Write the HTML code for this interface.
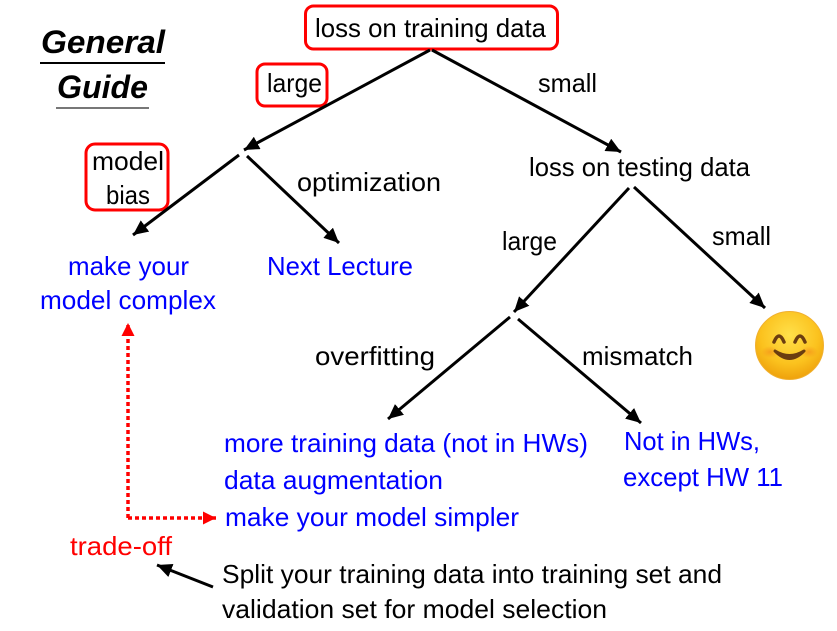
<!DOCTYPE html>
<html><head><meta charset="utf-8"><style>
html,body{margin:0;padding:0;background:#fff;}
svg{display:block;}
text{font-family:"Liberation Sans",sans-serif;font-size:26px;}
.b{fill:#0000ff;}
.r{fill:#ff0000;}
</style></head><body>
<svg width="837" height="631" viewBox="0 0 837 631" xmlns="http://www.w3.org/2000/svg">
<defs>
<marker id="ah" markerUnits="userSpaceOnUse" markerWidth="16" markerHeight="14" refX="15" refY="7" orient="auto">
<path d="M0,0 L15,7 L0,14 Z" fill="#000"/>
</marker>
<marker id="rh" markerUnits="userSpaceOnUse" markerWidth="14" markerHeight="13" refX="13" refY="6.5" orient="auto">
<path d="M0,0 L13,6.5 L0,13 Z" fill="#ff0000"/>
</marker>
<radialGradient id="eg" cx="0.5" cy="0.35" r="0.7">
<stop offset="0" stop-color="#ffe04a"/>
<stop offset="0.6" stop-color="#fbc21e"/>
<stop offset="1" stop-color="#ec9a08"/>
</radialGradient>
<radialGradient id="ck" cx="0.5" cy="0.5" r="0.5">
<stop offset="0" stop-color="#f4901a" stop-opacity="0.7"/>
<stop offset="1" stop-color="#f4901a" stop-opacity="0"/>
</radialGradient>
</defs>

<!-- title -->
<text x="41" y="53" style="font-size:32px;font-weight:bold;font-style:italic" textLength="124" lengthAdjust="spacingAndGlyphs">General</text>
<line x1="40" y1="63" x2="165" y2="63" stroke="#000" stroke-width="2"/>
<text x="57" y="98" style="font-size:32px;font-weight:bold;font-style:italic" textLength="91" lengthAdjust="spacingAndGlyphs">Guide</text>
<line x1="56" y1="108" x2="149" y2="108" stroke="#777" stroke-width="2"/>

<!-- boxes -->
<rect x="305.5" y="6" width="252" height="43" rx="8" fill="none" stroke="#ff0000" stroke-width="3"/>
<rect x="257" y="64" width="70" height="42" rx="8" fill="none" stroke="#ff0000" stroke-width="3"/>
<rect x="86" y="144" width="82" height="66" rx="9" fill="none" stroke="#ff0000" stroke-width="3"/>

<!-- arrows -->
<g stroke="#000" stroke-width="3" fill="none">
<line x1="430" y1="50" x2="244" y2="150" marker-end="url(#ah)"/>
<line x1="432" y1="50" x2="621" y2="152" marker-end="url(#ah)"/>
<line x1="239" y1="155" x2="133" y2="235" marker-end="url(#ah)"/>
<line x1="247" y1="156" x2="339" y2="243" marker-end="url(#ah)"/>
<line x1="629" y1="188" x2="514" y2="312" marker-end="url(#ah)"/>
<line x1="634" y1="187" x2="765" y2="308" marker-end="url(#ah)"/>
<line x1="510" y1="317" x2="388" y2="419" marker-end="url(#ah)"/>
<line x1="518" y1="319" x2="641" y2="423" marker-end="url(#ah)"/>
<line x1="213" y1="587" x2="157" y2="565" marker-end="url(#ah)"/>
</g>
<g stroke="#ff0000" stroke-width="3.5" fill="none" stroke-dasharray="4 3">
<line x1="128" y1="518" x2="128" y2="323" marker-end="url(#rh)"/>
<line x1="128" y1="518" x2="216" y2="518" marker-end="url(#rh)"/>
</g>

<!-- labels -->
<text x="315" y="37" textLength="231" lengthAdjust="spacingAndGlyphs">loss on training data</text>
<text x="267" y="92" textLength="55" lengthAdjust="spacingAndGlyphs">large</text>
<text x="538" y="92" textLength="59" lengthAdjust="spacingAndGlyphs">small</text>
<text x="92" y="170" textLength="72" lengthAdjust="spacingAndGlyphs">model</text>
<text x="106" y="204" textLength="44" lengthAdjust="spacingAndGlyphs">bias</text>
<text x="297" y="191" textLength="144" lengthAdjust="spacingAndGlyphs">optimization</text>
<text x="529" y="176" textLength="221" lengthAdjust="spacingAndGlyphs">loss on testing data</text>
<text class="b" x="68" y="275" textLength="121" lengthAdjust="spacingAndGlyphs">make your</text>
<text class="b" x="40" y="309" textLength="176" lengthAdjust="spacingAndGlyphs">model complex</text>
<text class="b" x="267" y="275" textLength="146" lengthAdjust="spacingAndGlyphs">Next Lecture</text>
<text x="502" y="250" textLength="55" lengthAdjust="spacingAndGlyphs">large</text>
<text x="712" y="245" textLength="59" lengthAdjust="spacingAndGlyphs">small</text>
<text x="315" y="365" textLength="120" lengthAdjust="spacingAndGlyphs">overfitting</text>
<text x="582" y="365" textLength="111" lengthAdjust="spacingAndGlyphs">mismatch</text>
<text class="b" x="224" y="452" textLength="364" lengthAdjust="spacingAndGlyphs">more training data (not in HWs)</text>
<text class="b" x="224" y="489" textLength="219" lengthAdjust="spacingAndGlyphs">data augmentation</text>
<text class="b" x="225" y="526" textLength="294" lengthAdjust="spacingAndGlyphs">make your model simpler</text>
<text class="b" x="624" y="450" textLength="136" lengthAdjust="spacingAndGlyphs">Not in HWs,</text>
<text class="b" x="623" y="486" textLength="160" lengthAdjust="spacingAndGlyphs">except HW 11</text>
<text class="r" x="70" y="555" textLength="102" lengthAdjust="spacingAndGlyphs">trade-off</text>
<text x="222" y="583" textLength="500" lengthAdjust="spacingAndGlyphs">Split your training data into training set and</text>
<text x="222" y="618" textLength="385" lengthAdjust="spacingAndGlyphs">validation set for model selection</text>

<!-- emoji -->
<circle cx="789.5" cy="345.5" r="34" fill="url(#eg)" stroke="#f0b030" stroke-width="1"/>
<ellipse cx="770" cy="352" rx="9" ry="6" fill="url(#ck)"/>
<ellipse cx="809" cy="352" rx="9" ry="6" fill="url(#ck)"/>
<path d="M774,342 Q779,330 784,342" stroke="#6b3d10" stroke-width="3.5" fill="none" stroke-linecap="round"/>
<path d="M795,342 Q800,330 805,342" stroke="#6b3d10" stroke-width="3.5" fill="none" stroke-linecap="round"/>
<path d="M775,351 Q789.5,366 804,351 Q789.5,360 775,351 Z" fill="#6b3d10" stroke="#6b3d10" stroke-width="3" stroke-linejoin="round"/>
</svg>
</body></html>
